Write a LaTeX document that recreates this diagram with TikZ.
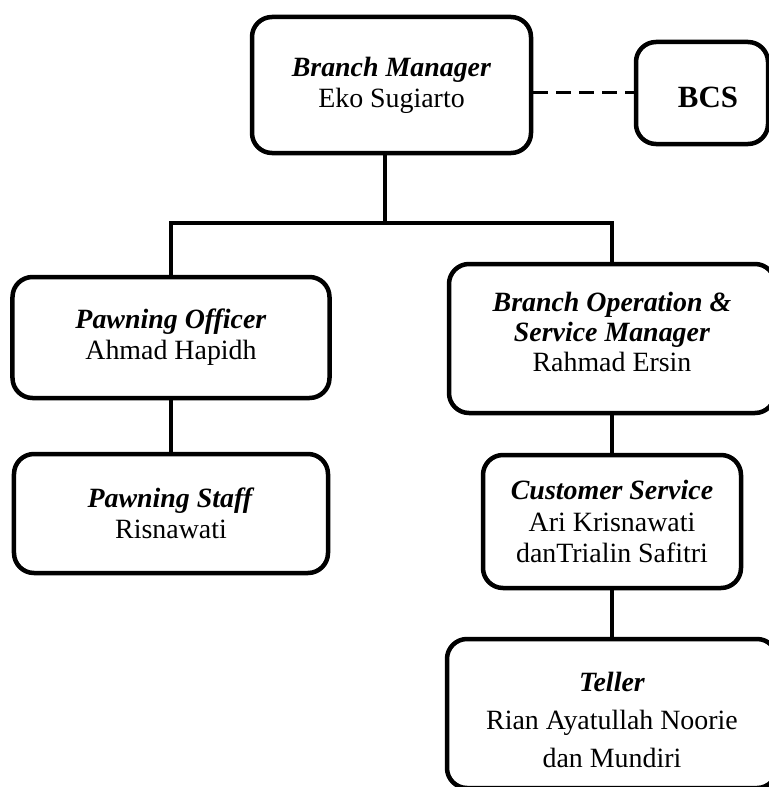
\documentclass[tikz,border=0pt]{standalone}
\usepackage{fontspec}
\setmainfont{Liberation Serif}
\begin{document}
\begin{tikzpicture}[x=1bp,y=-1bp,
  box/.style={draw, line width=4.5bp, rounded corners=20bp, align=center, inner sep=0pt,
    font=\fontsize{28}{31}\selectfont},
  conn/.style={line width=3.5bp},
  dashconn/.style={line width=3bp, dash pattern=on 15bp off 8bp}]
\useasboundingbox (0,0) rectangle (769,787);
\node[box, minimum width=279bp, minimum height=136bp] (bm) at (391.5,85)
  {\textbf{\textit{Branch Manager}}\\Eko Sugiarto};
\node[box, minimum width=132bp, minimum height=102bp, font=\fontsize{31}{34}\selectfont\bfseries] (bcs) at (702,93)
  {\hspace*{12bp}\rule{0pt}{30bp}BCS};
\node[box, minimum width=317bp, minimum height=121bp] (po) at (171,337.5)
  {\textbf{\textit{Pawning Officer}}\\Ahmad Hapidh};
\node[box, minimum width=314bp, minimum height=119bp] (ps) at (171,513.5)
  {\textbf{\textit{Pawning Staff}}\\Risnawati};
\node[box, minimum width=326bp, minimum height=149bp, font=\fontsize{28}{30}\selectfont] (bo) at (612,338.5)
  {\textbf{\textit{Branch Operation \&}}\\\textbf{\textit{Service Manager}}\\Rahmad Ersin\rule[-14bp]{0pt}{14bp}};
\node[box, minimum width=258bp, minimum height=133bp, font=\fontsize{28}{32}\selectfont] (cs) at (612,521.5)
  {\textbf{\textit{Customer Service}}\\Ari Krisnawati\\danTrialin Safitri};
\node[box, minimum width=330bp, minimum height=149bp, font=\fontsize{28}{38}\selectfont] (tl) at (612,713.5)
  {\rule{0pt}{32bp}\textbf{\textit{Teller}}\\Rian Ayatullah Noorie\\dan Mundiri};
\coordinate (jt) at (385,223);
\coordinate (dj) at (0,92);
\draw[conn] (bm.south -| jt) -- (jt);
\draw[conn] (po.north) -- (po.north |- jt) -- (bo.north |- jt) -- (bo.north);
\draw[conn] (po.south) -- (ps.north);
\draw[conn] (bo.south) -- (cs.north);
\draw[conn] (cs.south) -- (tl.north);
\draw[dashconn] (bm.east |- dj) -- (bcs.west |- dj);
\end{tikzpicture}
\end{document}
